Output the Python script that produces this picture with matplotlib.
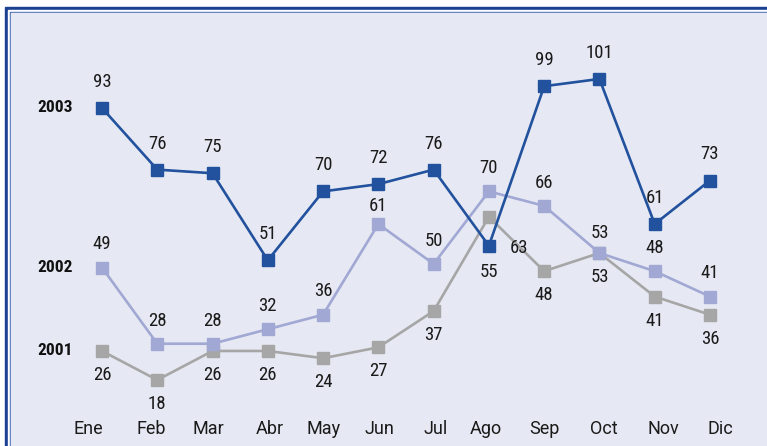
import matplotlib.pyplot as plt
from matplotlib.patches import Rectangle

months = ["Ene", "Feb", "Mar", "Abr", "May", "Jun", "Jul", "Ago", "Sep", "Oct", "Nov", "Dic"]
v2003 = [93, 76, 75, 51, 70, 72, 76, 55, 99, 101, 61, 73]
v2002 = [49, 28, 28, 32, 36, 61, 50, 70, 66, 53, 48, 41]
v2001 = [26, 18, 26, 26, 24, 27, 37, 63, 48, 53, 41, 36]

# label position: 1 above, -1 below
pos2003 = [1, 1, 1, 1, 1, 1, 1, -1, 1, 1, 1, 1]
pos2002 = [1] * 12
pos2001 = [-1] * 12

# month labels in the original are not exactly under the markers (pixel nudges)
month_nudge = [-14, -6, -4, 2, 0, 1, 2, -3, 0, 4, 9, 10]

plt.rcParams["font.family"] = ["Roboto Condensed", "DejaVu Sans"]

W, H = 767, 446
fig = plt.figure(figsize=(W / 100, H / 100), dpi=100)
fig.patch.set_facecolor("white")

# frame (pixel coords, top-left origin)
def rect(x0, y0, x1, y1, color):
    fig.patches.append(Rectangle((x0 / W, 1 - y1 / H), (x1 - x0) / W, (y1 - y0) / H,
                                 transform=fig.transFigure, color=color, zorder=0))

rect(5, 7, W + 5, H + 5, "#1b3f91")
rect(8, 10, W + 5, H + 5, "white")
rect(10, 12, W + 5, H + 5, "#4a6cb5")
rect(11, 13, W + 5, H + 5, "#e6e9f3")

ax = fig.add_axes([0, 0, 1, 1])
ax.set_zorder(5)
ax.patch.set_alpha(0)
sp = 55.27
x0 = 102
ax.set_xlim(-x0 / sp, (W - x0) / sp)
ax.set_ylim(-0.2, H / 3.627 - 0.2)
ax.axis("off")

x = list(range(12))
series = [
    (v2001, pos2001, "#a6a6a6", "2001", 6.6),
    (v2002, pos2002, "#a1a8d3", "2002", 6.4),
    (v2003, pos2003, "#22519d", "2003", 7.2),
]
for vals, pos, col, name, off in series:
    ax.plot(x, vals, color=col, lw=1.9, marker="s", ms=8.5, mec=col, mfc=col)
    for i, (v, p) in enumerate(zip(vals, pos)):
        ax.text(i, v + off * p, str(v), ha="center", va="center", fontsize=13.5, color="#1a1a1a")
    ax.text(-0.52, vals[0], name, ha="right", va="center", fontsize=12.5,
            fontweight="bold", color="#111111")

# a few labels sit off the default spot
for t in ax.texts:
    s = t.get_text()
    px, py = t.get_position()
    if s == "63":
        t.set_position((7.55, 63 - 8.7))
    elif s == "61" and px == 5:
        t.set_position((5, 61 + 5.0))
    elif s == "53" and px == 9 and py > 53:
        t.set_position((9, 53 + 5.4))

for i, m in enumerate(months):
    ax.annotate(m, (i, 4.6), xytext=(month_nudge[i], 0), textcoords="offset pixels",
                ha="center", va="center", fontsize=13, color="#1a1a1a",
                family=["Roboto", "DejaVu Sans"])

fig.savefig("out.png", dpi=100)
